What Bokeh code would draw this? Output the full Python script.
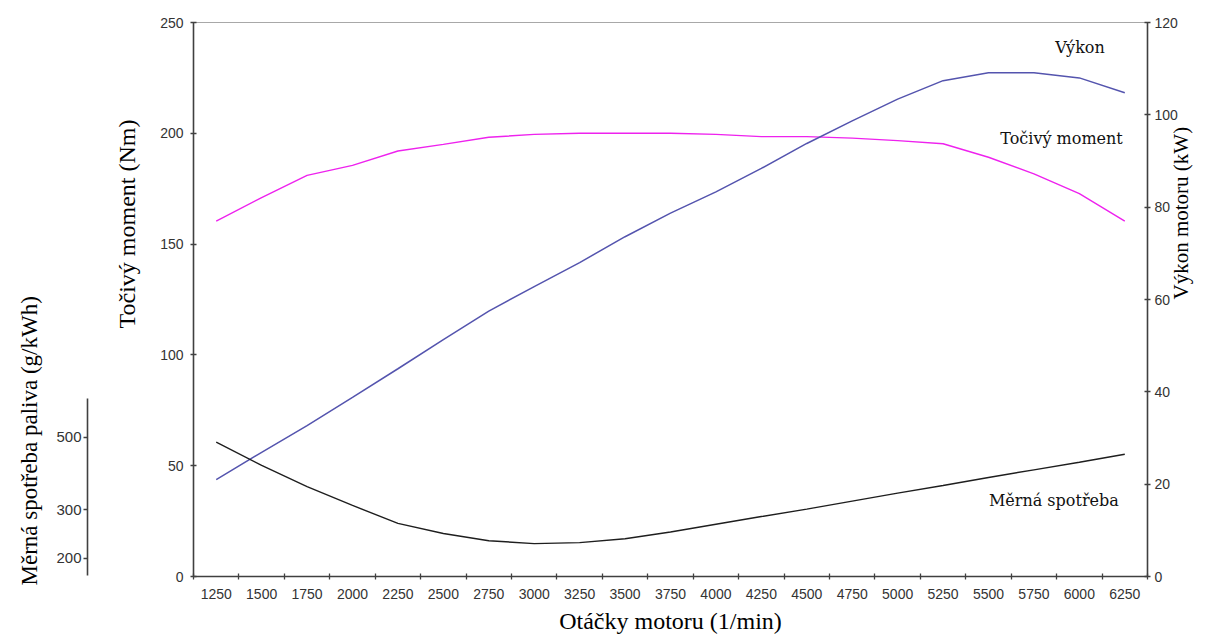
import math
import numpy as np
from bokeh.plotting import figure
from bokeh.models import Range1d, LinearAxis, FixedTicker, CustomJSTickFormatter, Title, Label
from bokeh.embed import file_html
from bokeh.resources import INLINE

# ---------------- data ----------------
rpm = [1250, 1500, 1750, 2000, 2250, 2500, 2750, 3000, 3250, 3500, 3750,
       4000, 4250, 4500, 4750, 5000, 5250, 5500, 5750, 6000, 6250]
torque_nm = [160.4, 171, 181, 185.5, 192, 195, 198.2, 199.5, 200, 200, 200,
             199.5, 198.5, 198.5, 197.8, 196.7, 195.3, 189.2, 181.7, 172.8, 160.4]
power_kw = [21.0, 26.9, 32.7, 38.8, 45.0, 51.3, 57.5, 62.8, 68.0, 73.6, 78.7,
            83.3, 88.4, 93.8, 98.7, 103.4, 107.4, 109.1, 109.1, 108.0, 104.8]
bsfc_g_kwh = [486, 422, 364, 312, 272, 251, 236, 230, 232, 240, 254,
              270, 286, 302, 324, 346, 367, 389, 410, 431, 453]

torque_ticks = [0, 50, 100, 150, 200, 250]
power_ticks = [0, 20, 40, 60, 80, 100, 120]
# auxiliary (non-linear) fuel consumption scale, drawn against the Nm scale
spot_tick_labels = [200, 300, 500]
spot_tick_pos_nm = [8.3, 30.1, 62.9]
spot_axis_span_nm = (0.45, 80.2)

bsfc_on_nm = list(np.interp(bsfc_g_kwh, spot_tick_labels, spot_tick_pos_nm))

step = rpm[1] - rpm[0]
half = step / 2

AXIS_COL = "#404040"
TICK_TXT = "#333333"

p = figure(width=1207, height=640,
           x_range=Range1d(rpm[0] - half, rpm[-1] + half),
           y_range=Range1d(torque_ticks[0], torque_ticks[-1]),
           output_backend="svg", toolbar_location=None,
           min_border_left=193, min_border_right=60,
           min_border_top=22, min_border_bottom=64)
p.extra_y_ranges = {"kw": Range1d(power_ticks[0], power_ticks[-1])}
p.xgrid.visible = False
p.ygrid.visible = False
p.outline_line_color = "#a8a8a8"
p.outline_line_width = 1
p.background_fill_color = "white"
p.border_fill_color = "white"

# ---- x axis (category style: labels between ticks)
xa = p.xaxis[0]
xa.ticker = FixedTicker(ticks=rpm, minor_ticks=[r - half for r in rpm] + [rpm[-1] + half])
xa.major_tick_line_color = None
xa.major_tick_out = 3
xa.major_tick_in = 0
xa.minor_tick_in = 3
xa.minor_tick_out = 3
xa.minor_tick_line_color = AXIS_COL
xa.minor_tick_line_width = 1.3
xa.axis_line_color = AXIS_COL
xa.axis_line_width = 1.6
xa.major_label_text_font = "Liberation Sans"
xa.major_label_text_font_size = "14px"
xa.major_label_text_color = TICK_TXT
xa.major_label_standoff = 9
xa.axis_label = "Otáčky motoru (1/min)"
xa.axis_label_text_font = "Liberation Serif"
xa.axis_label_text_font_size = "24px"
xa.axis_label_text_font_style = "normal"
xa.axis_label_text_color = "black"
xa.axis_label_standoff = 6


def style_y(ax, ticks):
    ax.ticker = FixedTicker(ticks=ticks)
    ax.major_tick_in = 3
    ax.major_tick_out = 3
    ax.major_tick_line_color = AXIS_COL
    ax.major_tick_line_width = 1.3
    ax.minor_tick_line_color = None
    ax.axis_line_color = AXIS_COL
    ax.axis_line_width = 1.6
    ax.major_label_text_font = "Liberation Sans"
    ax.major_label_text_font_size = "14px"
    ax.major_label_text_color = TICK_TXT
    ax.major_label_standoff = 7


ya = p.yaxis[0]
style_y(ya, torque_ticks)
ya.axis_label = None

t1 = Title(text="Točivý moment (Nm)", align="left", offset=248, standoff=34,
           vertical_align="middle", text_font="Liberation Serif",
           text_font_size="24px", text_font_style="normal", text_color="black")
p.add_layout(t1, "left")

# blank gap between the torque title and the fuel-consumption axis
spacer = LinearAxis(ticker=FixedTicker(ticks=[torque_ticks[-1]]),
                    formatter=CustomJSTickFormatter(code="return '';"),
                    major_tick_out=8, major_tick_in=0, major_tick_line_color="white",
                    axis_line_color=None, minor_tick_line_color=None,
                    major_label_standoff=0, major_label_text_font_size="1px")
p.add_layout(spacer, "left")

spot = LinearAxis(
    ticker=FixedTicker(ticks=spot_tick_pos_nm),
    bounds=spot_axis_span_nm,
    formatter=CustomJSTickFormatter(
        args=dict(pos=spot_tick_pos_nm, labels=[str(v) for v in spot_tick_labels]),
        code="""
        let best = 0;
        for (let i = 0; i < pos.length; i++) {
            if (Math.abs(pos[i] - tick) < Math.abs(pos[best] - tick)) best = i;
        }
        return labels[best];
        """),
    major_tick_out=4, major_tick_in=0, major_tick_line_color=AXIS_COL,
    major_tick_line_width=1.3, minor_tick_line_color=None,
    axis_line_color=AXIS_COL, axis_line_width=1.6,
    major_label_text_font="Liberation Sans", major_label_text_font_size="15px",
    major_label_text_color=TICK_TXT, major_label_standoff=2)
p.add_layout(spot, "left")

t2 = Title(text="Měrná spotřeba paliva (g/kWh)", align="left", offset=-9, standoff=22,
           vertical_align="middle", text_font="Liberation Serif",
           text_font_size="23px", text_font_style="normal", text_color="black")
p.add_layout(t2, "left")

ra = LinearAxis(y_range_name="kw")
style_y(ra, power_ticks)
ra.major_label_standoff = 4
ra.axis_label = "Výkon motoru (kW)"
ra.axis_label_text_font = "Liberation Serif"
ra.axis_label_text_font_size = "21px"
ra.axis_label_text_font_style = "normal"
ra.axis_label_text_color = "black"
ra.axis_label_standoff = 0
ra.axis_label_orientation = math.pi / 2
p.add_layout(ra, "right")

# ---- series
p.line(rpm, torque_nm, line_color="#ee22ee", line_width=1.4)
p.line(rpm, power_kw, y_range_name="kw", line_color="#5454ae", line_width=1.5)
p.line(rpm, bsfc_on_nm, line_color="#1e1e1e", line_width=1.4)

lab_kw = dict(text_font="DejaVu Serif", text_font_size="16px", text_color="#111111",
              text_align="right", text_baseline="middle")
p.add_layout(Label(x=rpm[-1], y=114.6, y_range_name="kw", x_offset=-20,
                   text="Výkon", **lab_kw))
p.add_layout(Label(x=rpm[-1], y=197.7, x_offset=-2, text="Točivý moment", **lab_kw))
p.add_layout(Label(x=rpm[-1], y=34.3, x_offset=-6, text="Měrná spotřeba", **lab_kw))

open("out.html", "w").write(file_html(p, INLINE))
